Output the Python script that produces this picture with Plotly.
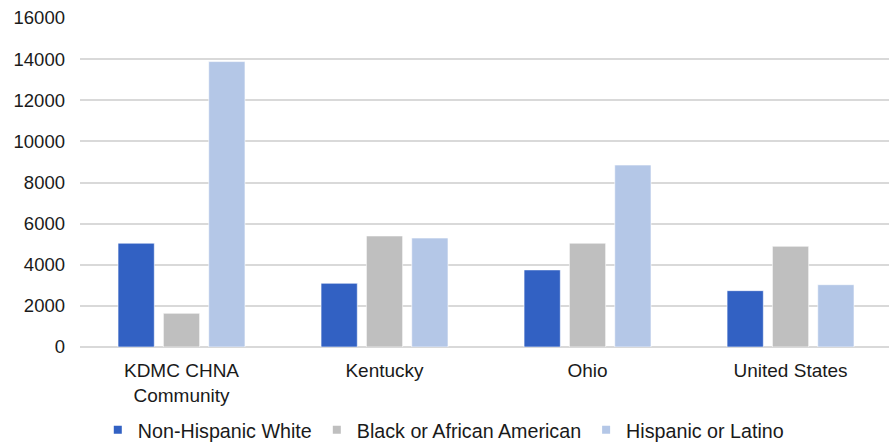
import plotly.graph_objects as go

# Categories and series values
categories = ["KDMC CHNA<br>Community", "Kentucky", "Ohio", "United States"]
series_names = ["Non-Hispanic White", "Black or African American", "Hispanic or Latino"]
non_hispanic_white = [5050, 3100, 3750, 2740]
black_african_american = [1640, 5400, 5050, 4900]
hispanic_latino = [13880, 5300, 8850, 3030]
y_ticks = [0, 2000, 4000, 6000, 8000, 10000, 12000, 14000, 16000]
y_tick_text = [str(v) for v in y_ticks]

colors = ["#3261C3", "#BFBFBF", "#B4C7E7"]
series_values = [non_hispanic_white, black_african_american, hispanic_latino]

FONT = "Liberation Sans, Arial, sans-serif"
TEXT = "#1a1a1a"

fig = go.Figure()
for name, vals, col in zip(series_names, series_values, colors):
    fig.add_trace(go.Bar(
        x=categories, y=vals, name=name,
        marker=dict(color=col, line=dict(color="rgba(255,255,255,0.6)", width=1)),
        showlegend=False,
    ))
    # small square legend key
    fig.add_trace(go.Scatter(
        x=[None], y=[None], mode="markers", name=name,
        marker=dict(symbol="square", size=8, color=col),
    ))

fig.update_layout(
    width=889, height=442,
    margin=dict(l=80, r=0, t=18, b=95, autoexpand=False),
    paper_bgcolor="white", plot_bgcolor="white",
    barmode="group", bargap=0.33, bargroupgap=0.2,
    font=dict(family=FONT, size=19, color=TEXT),
    showlegend=True,
    legend=dict(
        orientation="h",
        xref="container", x=0.110, xanchor="left",
        yref="container", y=0.027, yanchor="middle",
        font=dict(family=FONT, size=19.7, color=TEXT),
        itemwidth=30, tracegroupgap=0,
    ),
    xaxis=dict(
        type="category", range=[-0.5, 3.485], automargin=False,
        showgrid=False, showline=False, ticks="", ticklabelstandoff=10,
        tickfont=dict(family=FONT, size=19, color=TEXT),
    ),
    yaxis=dict(
        range=[0, 16000], tickvals=y_ticks, ticktext=y_tick_text, automargin=False,
        showgrid=True, gridcolor="#D9D9D9", gridwidth=1.5,
        zeroline=True, zerolinecolor="#D9D9D9", zerolinewidth=1.5,
        showline=False, ticks="", ticklabelstandoff=14,
        tickfont=dict(family=FONT, size=18.5, color=TEXT),
    ),
)

fig.write_html("out.html")
